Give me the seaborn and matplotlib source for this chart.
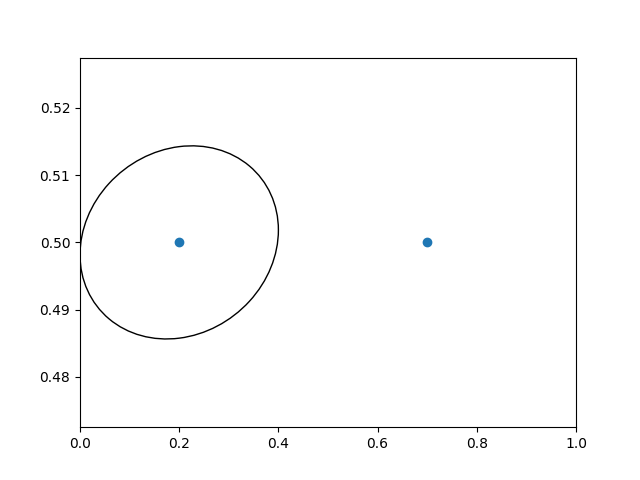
import matplotlib
matplotlib.use("Agg")
import matplotlib.pyplot as plt
from matplotlib.patches import Ellipse
import seaborn as sns

x_vals = [0.2, 0.7]
y_vals = [0.5, 0.5]

ell_center = (0.2, 0.5)
ell_width = 0.4
ell_height = 0.0285
ell_angle = 0.53

fig, ax = plt.subplots(figsize=(6.4, 4.8), dpi=100)
sns.scatterplot(x=x_vals, y=y_vals, ax=ax, color="C0", edgecolor="face", linewidth=1.0, s=36)
ax.add_patch(Ellipse(ell_center, ell_width, ell_height, angle=ell_angle,
                     fill=False, edgecolor="black", linewidth=1.0))
ax.set_xlim(0, 1)
ax.set_ylim(0.4725, 0.5275)
fig.savefig("out.png", dpi=100)
